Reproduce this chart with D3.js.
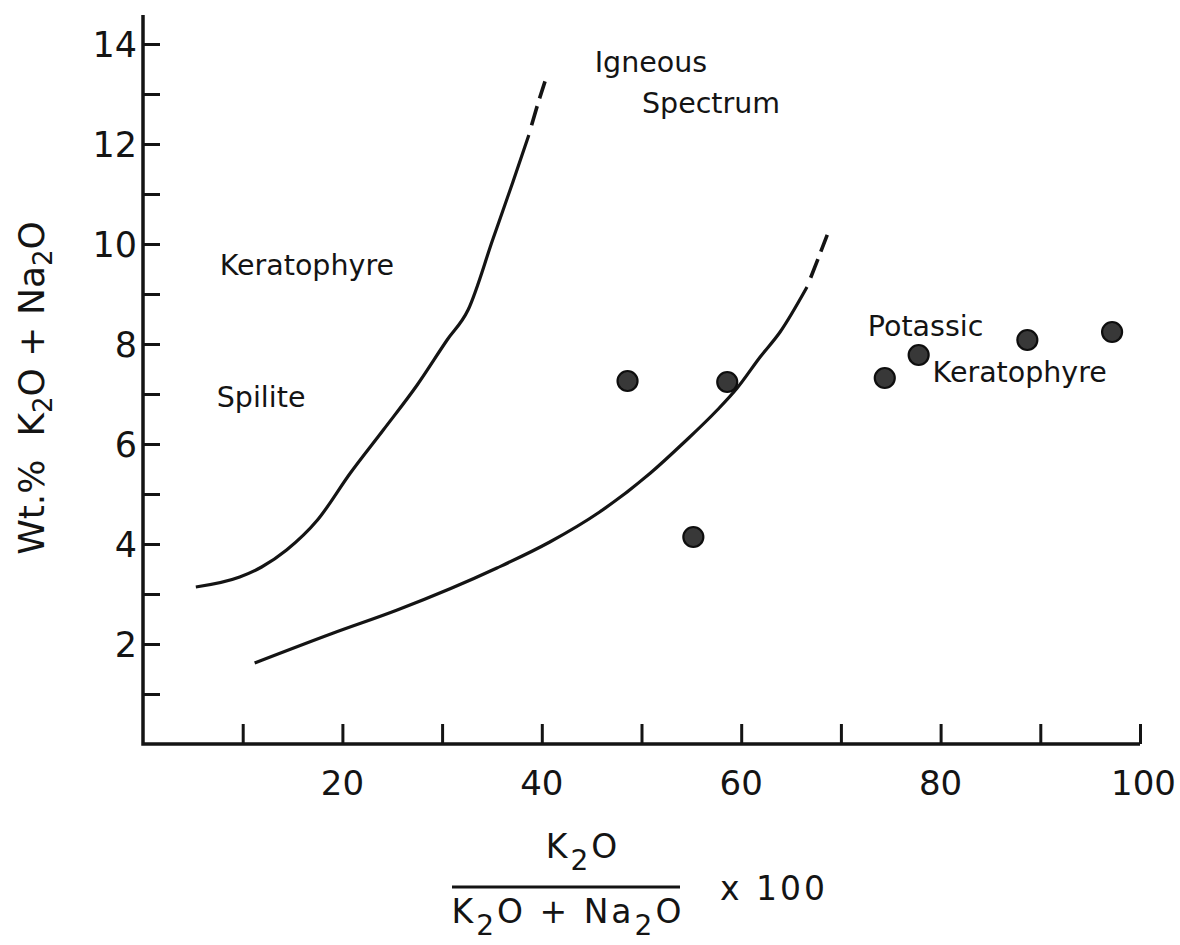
<!DOCTYPE html>
<html>
<head>
<meta charset="utf-8">
<script src="https://cdn.jsdelivr.net/npm/d3@7"></script>
<style>
  body { margin: 0; background: #fff; }
  svg { display: block; font-family: "DejaVu Sans", sans-serif; }
</style>
</head>
<body>
<div id="chart"></div>
<script>
// K2O/(K2O+Na2O) x 100 vs Wt.% K2O + Na2O
const xTicks = [10, 20, 30, 40, 50, 60, 70, 80, 90, 100];
const xLabels = [20, 40, 60, 80, 100];
const yTicks = [1, 2, 3, 4, 5, 6, 7, 8, 9, 10, 11, 12, 13, 14];
const yLabels = [2, 4, 6, 8, 10, 12, 14];

// samples
const sampleX = [48.6, 58.6, 55.2, 74.4, 77.8, 88.7, 97.2];
const sampleY = [7.26, 7.24, 4.14, 7.32, 7.78, 8.08, 8.24];

// spilite / keratophyre boundary
const spiliteX = [5.3, 9.7, 11.9, 14.4, 17.5, 20.8, 24.1, 27.5, 30.5, 32.6, 35.1, 37.1, 38.7];
const spiliteY = [3.14, 3.34, 3.54, 3.88, 4.48, 5.42, 6.28, 7.18, 8.08, 8.68, 10.1, 11.24, 12.18];
const spiliteExtX = [38.7, 39.6, 40.4];
const spiliteExtY = [12.18, 12.8, 13.3];

// igneous spectrum boundary
const spectrumX = [11.2, 19.1, 25.5, 35.5, 40.8, 45.8, 50.9, 54.2, 57.6, 59.6, 61.9, 63.9, 66.6];
const spectrumY = [1.62, 2.22, 2.68, 3.52, 4.04, 4.64, 5.42, 6.02, 6.68, 7.12, 7.74, 8.24, 9.14];
const spectrumExtX = [66.6, 67.7, 68.7];
const spectrumExtY = [9.14, 9.7, 10.22];

const w = 1180;
const h = 945;

const xScale = d3.scaleLinear().domain([0, 100]).range([143, 1140]);
const yScale = d3.scaleLinear().domain([0, 14]).range([744, 44]);

const ink = '#141414';

const svg = d3.select('#chart')
  .append('svg')
  .attr('width', w)
  .attr('height', h);

svg.append('rect').attr('width', w).attr('height', h).attr('fill', '#fff');

// axes
const xAxis = d3.axisTop(xScale)
  .tickValues(xTicks)
  .tickSize(20)
  .tickFormat('')
  .tickSizeOuter(0);

const yAxis = d3.axisRight(yScale)
  .tickValues(yTicks)
  .tickSize(17)
  .tickFormat('')
  .tickSizeOuter(0);

const gx = svg.append('g')
  .attr('transform', `translate(0, ${yScale(0)})`)
  .call(xAxis);
gx.select('.domain').remove();
gx.selectAll('line').attr('stroke', ink).attr('stroke-width', 3);

const gy = svg.append('g')
  .attr('transform', `translate(${xScale(0)}, 0)`)
  .call(yAxis);
gy.select('.domain').remove();
gy.selectAll('line').attr('stroke', ink).attr('stroke-width', 3);

// axis lines
svg.append('path')
  .attr('d', `M${xScale(0)},${yScale(14.58)} L${xScale(0)},${yScale(0)} L${xScale(100)},${yScale(0)}`)
  .attr('fill', 'none')
  .attr('stroke', ink)
  .attr('stroke-width', 3.5);

// tick labels
svg.append('g').selectAll('text')
  .data(xLabels)
  .enter()
  .append('text')
  .attr('x', d => d === 100 ? 1176 : xScale(d))
  .attr('y', yScale(0) + 51)
  .attr('text-anchor', d => d === 100 ? 'end' : 'middle')
  .attr('font-size', 34)
  .attr('fill', ink)
  .text(d => d);

svg.append('g').selectAll('text')
  .data(yLabels)
  .enter()
  .append('text')
  .attr('x', xScale(0) - 6)
  .attr('y', d => yScale(d))
  .attr('dy', '0.36em')
  .attr('text-anchor', 'end')
  .attr('font-size', 35)
  .attr('fill', ink)
  .text(d => d);

// boundary curves
const line = d3.line()
  .x(d => xScale(d[0]))
  .y(d => yScale(d[1]))
  .curve(d3.curveMonotoneX);

const zip = (a, b) => a.map((v, i) => [v, b[i]]);

[[spiliteX, spiliteY], [spectrumX, spectrumY]].forEach(([xs, ys]) => {
  svg.append('path')
    .datum(zip(xs, ys))
    .attr('d', line)
    .attr('fill', 'none')
    .attr('stroke', ink)
    .attr('stroke-width', 3.2);
});

[[spiliteExtX, spiliteExtY], [spectrumExtX, spectrumExtY]].forEach(([xs, ys]) => {
  svg.append('path')
    .datum(zip(xs, ys))
    .attr('d', line)
    .attr('fill', 'none')
    .attr('stroke', ink)
    .attr('stroke-width', 3.6)
    .attr('stroke-dasharray', '0 10 20 8 18 60');
});

// samples
svg.append('g').selectAll('circle')
  .data(zip(sampleX, sampleY))
  .enter()
  .append('circle')
  .attr('cx', d => xScale(d[0]))
  .attr('cy', d => yScale(d[1]))
  .attr('r', 10)
  .attr('fill', '#383838')
  .attr('stroke', '#0e0e0e')
  .attr('stroke-width', 2.2);

// field names
const notes = [
  { text: 'Igneous', x: 45.3, y: 13.44 },
  { text: 'Spectrum', x: 50.05, y: 12.62 },
  { text: 'Keratophyre', x: 7.7, y: 9.38 },
  { text: 'Spilite', x: 7.4, y: 6.74 },
  { text: 'Potassic', x: 72.7, y: 8.16 },
  { text: 'Keratophyre', x: 79.2, y: 7.24 }
];

svg.append('g').selectAll('text')
  .data(notes)
  .enter()
  .append('text')
  .attr('x', d => xScale(d.x))
  .attr('y', d => yScale(d.y))
  .attr('font-size', 28.5)
  .attr('fill', ink)
  .text(d => d.text);

// y title
const yt = svg.append('text')
  .attr('transform', `translate(44, 388) rotate(-90)`)
  .attr('text-anchor', 'middle')
  .attr('font-size', 36)
  .attr('fill', ink)
  .attr('xml:space', 'preserve');
yt.append('tspan').text('Wt.%  K');
yt.append('tspan').attr('dy', 8).attr('font-size', 26).text('2');
yt.append('tspan').attr('dy', -8).text('O + Na');
yt.append('tspan').attr('dy', 8).attr('font-size', 26).text('2');
yt.append('tspan').attr('dy', -8).text('O');

// x title as a fraction
const num = svg.append('text')
  .attr('x', 583)
  .attr('y', 858)
  .attr('text-anchor', 'middle')
  .attr('font-size', 33)
  .attr('letter-spacing', 3)
  .attr('fill', ink);
num.append('tspan').text('K');
num.append('tspan').attr('dy', 12).attr('font-size', 28).text('2');
num.append('tspan').attr('dy', -12).text('O');

svg.append('line')
  .attr('x1', 452).attr('x2', 680)
  .attr('y1', 887).attr('y2', 887)
  .attr('stroke', ink)
  .attr('stroke-width', 3);

const den = svg.append('text')
  .attr('x', 568)
  .attr('y', 923)
  .attr('text-anchor', 'middle')
  .attr('font-size', 33)
  .attr('letter-spacing', 3)
  .attr('fill', ink)
  .attr('xml:space', 'preserve');
den.append('tspan').text('K');
den.append('tspan').attr('dy', 12).attr('font-size', 28).text('2');
den.append('tspan').attr('dy', -12).text('O + Na');
den.append('tspan').attr('dy', 12).attr('font-size', 28).text('2');
den.append('tspan').attr('dy', -12).text('O');

svg.append('text')
  .attr('x', 720)
  .attr('y', 900)
  .attr('font-size', 33)
  .attr('letter-spacing', 3)
  .attr('fill', ink)
  .attr('xml:space', 'preserve')
  .text('x 100');
</script>
</body>
</html>
